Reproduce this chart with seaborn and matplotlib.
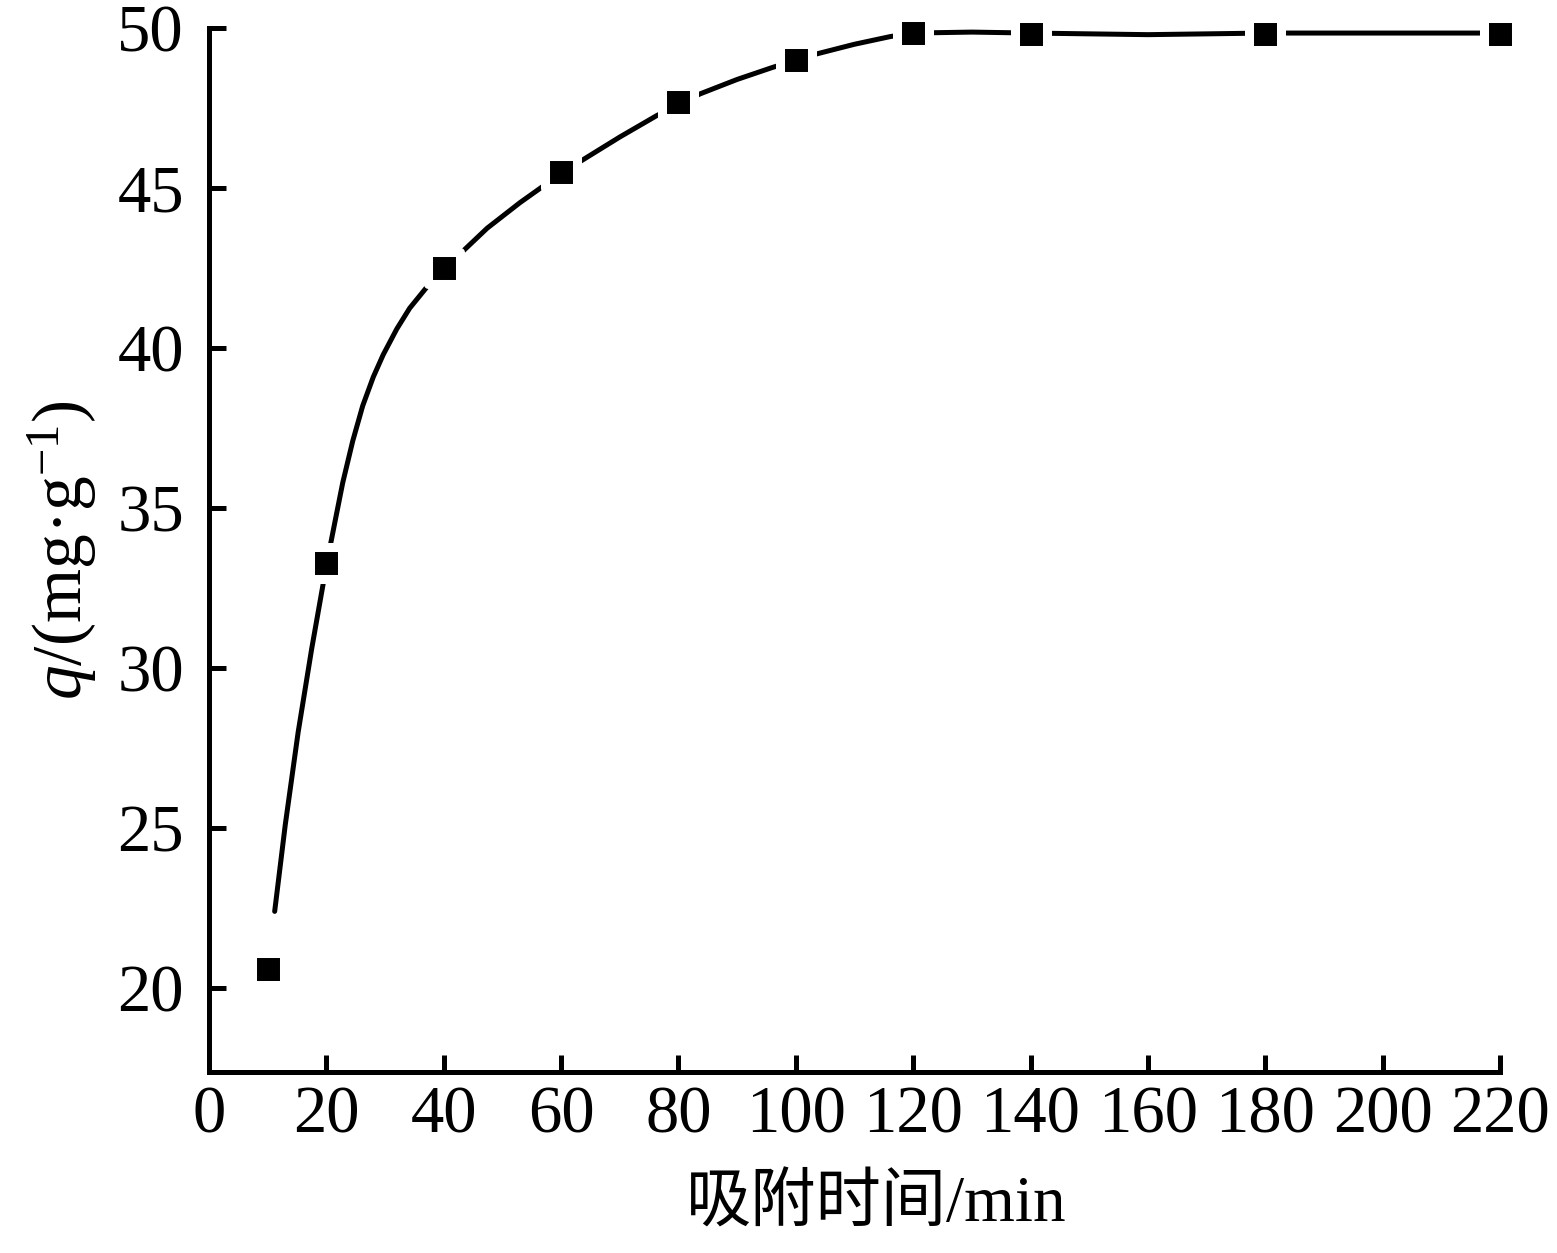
import matplotlib
matplotlib.use("Agg")
import pandas as pd
import matplotlib.pyplot as plt
import seaborn as sns

# measured adsorption points
time_min = [10, 20, 40, 60, 80, 100, 120, 140, 180, 220]
q_mg_g = [20.6, 33.3, 42.5, 45.5, 47.7, 49.0, 49.85, 49.82, 49.82, 49.82]

# fitted curve
fit_time = [11.2, 13.0, 15.2, 17.5, 20.1, 21.5, 22.8, 24.5, 26.2, 28.0, 29.7,
            32.0, 34.2, 37.3, 39.9, 42.8, 47.4, 53.0, 57.6, 60.2, 63.2, 70.0,
            76.3, 83.7, 90.0, 96.1, 103.6, 110.0, 116.1, 120.0, 130.0, 140.0,
            160.0, 180.0, 200.0, 220.0]
fit_q = [22.4, 25.1, 28.0, 30.6, 33.3, 34.6, 35.8, 37.1, 38.2, 39.1, 39.8,
         40.6, 41.25, 41.95, 42.45, 42.95, 43.75, 44.55, 45.15, 45.47, 45.83, 46.6,
         47.27, 47.95, 48.4, 48.78, 49.2, 49.5, 49.74, 49.85, 49.88, 49.85,
         49.8, 49.85, 49.85, 49.85]

xticks = list(range(0, 221, 20))
yticks = [20, 25, 30, 35, 40, 45, 50]

sns.set_theme(style="ticks")
plt.rcParams['font.family'] = ['Liberation Serif', 'Noto Sans CJK SC']
plt.rcParams['mathtext.fontset'] = 'custom'
plt.rcParams['mathtext.rm'] = 'Liberation Serif'
plt.rcParams['mathtext.it'] = 'Liberation Serif:italic'

fig = plt.figure(figsize=(15.57, 12.53), dpi=100)
ax = fig.add_axes([0.1342, 0.14445, 0.8292, 0.8330])

df_fit = pd.DataFrame({'t': fit_time, 'q': fit_q})
df_pts = pd.DataFrame({'t': time_min, 'q': q_mg_g})

sns.lineplot(data=df_fit, x='t', y='q', sort=False, estimator=None,
             color='black', linewidth=3.6, ax=ax)
sns.scatterplot(data=df_pts, x='t', y='q', marker='s', s=500, color='black',
                edgecolor='white', linewidth=6.5, ax=ax, clip_on=False, zorder=3)

ax.set_xlim(0, 220)
ax.set_ylim(17.38, 50)
ax.set_xticks(xticks)
ax.set_yticks(yticks)

sns.despine(ax=ax)
for side in ['left', 'bottom']:
    ax.spines[side].set_linewidth(3.6)
    ax.spines[side].set_color('black')

ax.tick_params(axis='both', direction='in', length=12, width=3.6,
               color='black', labelsize=48, labelcolor='black')
ax.tick_params(axis='x', pad=10)
ax.tick_params(axis='y', pad=18)

ax.set_xlabel('吸附时间/min', fontsize=47, color='black')
ax.set_ylabel(r'$q$/(mg·g$^{-1}$)', fontsize=50, color='black')
ax.xaxis.label.set_va('center')
ax.yaxis.label.set_va('center')
ax.xaxis.set_label_coords(0.517, -0.128)
ax.yaxis.set_label_coords(-0.114, 0.5)

fig.savefig('out.png', dpi=100, facecolor='white')
